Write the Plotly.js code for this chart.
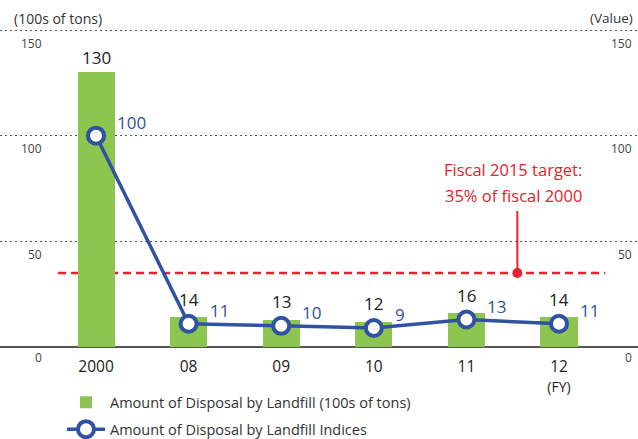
<!DOCTYPE html>
<html>
<head>
<meta charset="utf-8">
<script src="https://cdn.plot.ly/plotly-3.0.1.min.js"></script>
<style>html,body{margin:0;padding:0;background:#fff;}#chart{width:638px;height:439px;}</style>
</head>
<body>
<div id="chart"></div>
<script>
const categories = ['2000', '08', '09', '10', '11', '12'];
const tickLabels = ['2000', '08', '09', '10', '11', '12<br><span style="font-size:14px">(FY)</span>'];
const landfillAmount = [130, 14, 13, 12, 16, 14];
const landfillIndex = [100, 11, 10, 9, 13, 11];
const targetValue = 35;
const axisTicks = [0, 50, 100, 150];
const leftAxisTitle = '(100s of tons)';
const rightAxisTitle = '(Value)';
const targetLine1 = 'Fiscal 2015 target:';
const targetLine2 = '35% of fiscal 2000';
const barName = 'Amount of Disposal by Landfill (100s of tons)';
const lineName = 'Amount of Disposal by Landfill Indices';

const FONT = '"Open Sans", "Noto Sans", sans-serif';
const GREEN = '#8DC551';
const BLUE = '#2F52A2';
const RED = '#E8212B';
const W = 638, H = 439, MT = 20, MB = 88;
const yRange = [-1.9, 154.75];
const pxPerUnit = (H - MT - MB) / (yRange[1] - yRange[0]);
const markerRadius = 10;

const annotations = [];
// bar value labels and index labels (x given as category index)
categories.forEach((c, i) => {
  const extra = Math.max(0, (landfillIndex[i] - landfillAmount[i]) * pxPerUnit + markerRadius);
  annotations.push({
    x: i, y: landfillAmount[i], xref: 'x', yref: 'y',
    text: String(landfillAmount[i]), showarrow: false,
    xanchor: 'center', yanchor: 'bottom', yshift: extra + 1,
    font: {family: FONT, size: 17, color: '#222'}
  });
  annotations.push({
    x: i, y: landfillIndex[i], xref: 'x', yref: 'y',
    text: String(landfillIndex[i]), showarrow: false,
    xanchor: 'left', yanchor: 'middle', xshift: 19, yshift: 13,
    font: {family: FONT, size: 17, color: BLUE}
  });
});
// axis value labels (left and right)
axisTicks.forEach(v => {
  annotations.push({x: 44 / W, xref: 'paper', y: v, yref: 'y', text: String(v), showarrow: false,
    xanchor: 'right', yanchor: 'middle', yshift: v === 0 ? -11 : -13,
    font: {family: FONT, size: 12, color: '#444'}});
  annotations.push({x: 634 / W, xref: 'paper', y: v, yref: 'y', text: String(v), showarrow: false,
    xanchor: 'right', yanchor: 'middle', yshift: v === 0 ? -11 : -13,
    font: {family: FONT, size: 12, color: '#444'}});
});
annotations.push({x: 12 / W, xref: 'paper', y: 1.006, yref: 'paper', text: leftAxisTitle, showarrow: false,
  xanchor: 'left', yanchor: 'middle', font: {family: FONT, size: 14, color: '#333'}});
annotations.push({x: 635 / W, xref: 'paper', y: 1.006, yref: 'paper', text: rightAxisTitle, showarrow: false,
  xanchor: 'right', yanchor: 'middle', font: {family: FONT, size: 13.5, color: '#333'}});

// target annotation
const stemX = 4.55, stemTop = 64.4;
annotations.push({x: stemX, y: stemTop, xref: 'x', yref: 'y', text: targetLine2, showarrow: false,
  xanchor: 'center', yanchor: 'middle', yshift: 15, xshift: -4, font: {family: FONT, size: 16.5, color: RED}});
annotations.push({x: stemX, y: stemTop, xref: 'x', yref: 'y', text: targetLine1, showarrow: false,
  xanchor: 'center', yanchor: 'middle', yshift: 41, xshift: -4, font: {family: FONT, size: 16.5, color: RED}});

const shapes = [
  {type: 'line', xref: 'x', yref: 'y', x0: -0.41, x1: 5.5, y0: targetValue, y1: targetValue,
   line: {color: RED, width: 2.5, dash: '8px,5px'}, layer: 'below'},
  {type: 'line', xref: 'x', yref: 'y', x0: stemX, x1: stemX, y0: targetValue, y1: stemTop,
   line: {color: RED, width: 2}},
  {type: 'circle', xref: 'x', yref: 'y', xsizemode: 'pixel', ysizemode: 'pixel',
   xanchor: stemX, yanchor: targetValue, x0: -5, x1: 5, y0: -5, y1: 5,
   fillcolor: RED, line: {color: RED, width: 0}}
];

const traces = [
  {type: 'bar', x: categories, y: landfillAmount, name: barName, width: 0.4,
   marker: {color: GREEN}, hoverinfo: 'skip', legendgroup: 'a'},
  {type: 'scatter', mode: 'lines+markers', x: categories, y: landfillIndex, name: lineName,
   line: {color: BLUE, width: 3.5},
   marker: {symbol: 'circle', size: 16, color: '#fff', line: {color: BLUE, width: 4}},
   hoverinfo: 'skip', legendgroup: 'b'}
];

const layout = {
  width: W, height: H,
  margin: {l: 0, r: 0, t: MT, b: MB, pad: 0, autoexpand: false},
  paper_bgcolor: '#fff', plot_bgcolor: '#fff',
  font: {family: FONT, color: '#222'},
  showlegend: true,
  legend: {x: 62 / W, xanchor: 'left', y: -0.107, yanchor: 'top', orientation: 'v',
    font: {family: FONT, size: 14.5, color: '#333'}, bgcolor: 'rgba(0,0,0,0)',
    traceorder: 'grouped', tracegroupgap: 5, itemwidth: 38},
  xaxis: {type: 'category', range: [-1.037, 5.853], tickmode: 'array',
    tickvals: categories, ticktext: tickLabels, showgrid: false, zeroline: false,
    showline: false, ticks: '', ticklabelstandoff: 4, automargin: false,
    tickfont: {family: FONT, size: 15.5, color: '#222'}, fixedrange: true},
  yaxis: {range: yRange, tickvals: axisTicks, showticklabels: false, showgrid: true,
    gridcolor: '#555', gridwidth: 1, griddash: '2px,3px', zeroline: true, automargin: false,
    zerolinecolor: '#555', zerolinewidth: 1.5, ticks: '', showline: false, fixedrange: true},
  annotations: annotations,
  shapes: shapes,
  bargap: 0
};

Plotly.newPlot('chart', traces, layout, {displayModeBar: false, staticPlot: true});
</script>
</body>
</html>
